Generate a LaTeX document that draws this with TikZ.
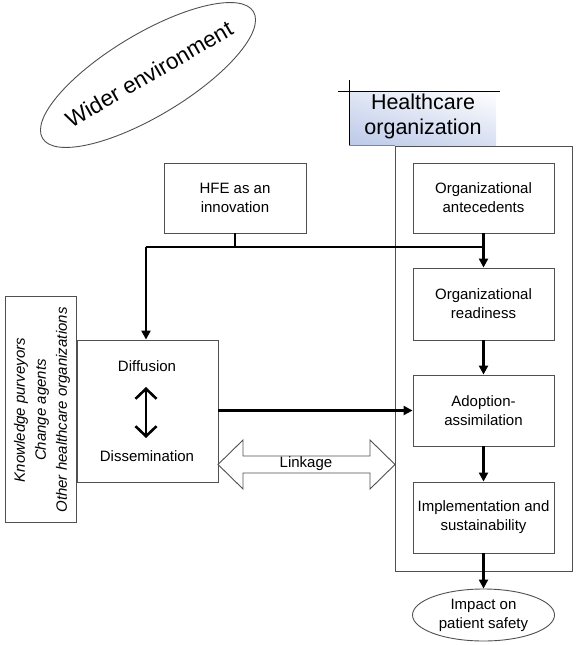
\documentclass[tikz,border=0pt]{standalone}
\usepackage{fontspec}
\setmainfont{Liberation Sans}
\usetikzlibrary{arrows.meta,shapes.geometric,shadings}
\definecolor{boxline}{HTML}{505050}
\definecolor{hcblue}{HTML}{BCC9E8}
\tikzset{
  box/.style={draw=boxline, line width=0.9pt, rectangle, align=center, font=\fontsize{15}{19}\selectfont, inner sep=2pt},
  conn/.style={line width=2.6pt, draw=black},
  tip/.style={-{Triangle[length=9pt,width=9pt]}},
}
\begin{document}
\begin{tikzpicture}[x=1pt,y=-1pt]
\useasboundingbox (0,0) rectangle (576,645);
% wider environment
\draw[draw=boxline, line width=0.9pt, rotate around={31:(148,75)}] (148,75) ellipse [x radius=123, y radius=41];
\node[rotate=30, font=\fontsize{22.5}{26}\selectfont] (widert) at (149,74) {Wider environment};
% healthcare organization label
\shade[lower left=hcblue, upper left=hcblue!45!white, upper right=white, lower right=hcblue!60!white] (349,91) rectangle (496,145);
\node[align=center, font=\fontsize{21.5}{25}\selectfont] (hclabel) at (423,116) {Healthcare\\organization};
\draw[line width=0.8pt, draw=black] (338,91) -- (500,91);
\draw[line width=0.8pt, draw=black] (349,80) -- (349,145);
\draw[line width=0.8pt, draw=boxline!70] (349,145) -- (395,145);
% outer organization box
\draw[draw=boxline, line width=0.9pt] (395,146) rectangle (572,571);
% boxes
\node[box, minimum width=142pt, minimum height=70pt] (hfe) at (235,198) {HFE as an\\innovation};
\node[box, minimum width=141pt, minimum height=70pt] (ante) at (483.5,198) {Organizational\\antecedents};
\node[box, minimum width=141pt, minimum height=72pt] (ready) at (483.5,304) {Organizational\\readiness};
\node[box, minimum width=141pt, minimum height=71pt] (adopt) at (483.5,410.5) {Adoption-\\assimilation};
\node[box, minimum width=141pt, minimum height=71pt] (impl) at (483.5,517.5) {Implementation and\\sustainability};
\node[box, ellipse, minimum width=142pt, minimum height=52pt, inner sep=0pt] (impact) at (483.5,615) {Impact on\\patient safety};
\node[box, minimum width=141pt, minimum height=142pt] (diff) at (147.5,411) {};
\node[font=\fontsize{15}{18}\selectfont] (difft) at (147,366) {Diffusion};
\node[font=\fontsize{15}{18}\selectfont] (disst) at (147,456) {Dissemination};
\node[box, minimum width=71pt, minimum height=226pt] (know) at (40.5,409) {};
\node[rotate=90, align=center, font=\fontsize{15}{21}\itshape] (knowt) at (42,410) {Knowledge purveyors\\Change agents\\Other healthcare organizations};
% double arrow inside diffusion
\coordinate (dup) at (146,387);
\coordinate (ddown) at (146,438);
\draw[line width=2.6pt, {Straight Barb[length=10pt,width=21pt]}-{Straight Barb[length=10pt,width=21pt]}] (dup) -- (ddown);
% connectors
\coordinate (j1) at (146,247);
\coordinate (j2) at (ante.south |- j1);
\draw[conn] (hfe.south) -- (hfe.south |- j1);
\draw[conn] (j1) -- (j2);
\draw[conn, tip] (j1) -- (diff.north -| j1);
\draw[conn, tip] (ante.south) -- (ready.north);
\draw[conn, tip] (ready.south) -- (adopt.north);
\draw[conn, tip] (adopt.south) -- (impl.north);
\draw[conn, tip] (impl.south) -- (impact.north);
\draw[conn, tip] (diff.east |- adopt.west) -- (adopt.west);
% linkage double arrow
\draw[draw=boxline, line width=0.9pt, fill=white] (218,464.5) -- (243,440) -- (243,456) -- (370,456) -- (370,440) -- (395,464.5) -- (370,489) -- (370,473) -- (243,473) -- (243,489) -- cycle;
\node[font=\fontsize{15}{18}\selectfont] (link) at (306,464) {Linkage};
\end{tikzpicture}
\end{document}
